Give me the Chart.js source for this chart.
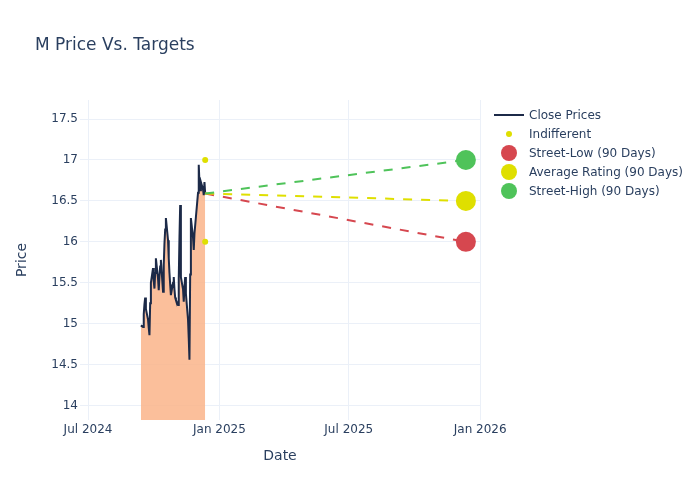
<!DOCTYPE html>
<html>
<head>
<meta charset="utf-8">
<script src="https://cdn.jsdelivr.net/npm/chart.js@4.4.1/dist/chart.umd.min.js"></script>
<style>
  html, body { margin: 0; padding: 0; background: #ffffff; }
  #wrap { position: relative; width: 700px; height: 500px; font-family: "DejaVu Sans", sans-serif; color: #2a3f5f; }
  #chart { position: absolute; left: 0; top: 0; }
  #title { position: absolute; left: 35px; top: 33px; font-size: 17px; line-height: 22px; white-space: nowrap; }
  .lg { position: absolute; left: 529px; font-size: 12px; line-height: 16px; white-space: nowrap; }
  .mk { position: absolute; }
</style>
</head>
<body>
<div id="wrap">
  <canvas id="chart" width="700" height="500"></canvas>
  <div id="title">M Price Vs. Targets</div>
  <div id="legend"></div>
</div>
<script>
// ---- data ----
const priceDates = [
  '2024-09-13','2024-09-16','2024-09-17','2024-09-18','2024-09-19','2024-09-20',
  '2024-09-23','2024-09-24','2024-09-25','2024-09-26','2024-09-27','2024-09-30',
  '2024-10-01','2024-10-02','2024-10-03','2024-10-04','2024-10-07','2024-10-08',
  '2024-10-09','2024-10-10','2024-10-11','2024-10-14','2024-10-15','2024-10-16',
  '2024-10-17','2024-10-18','2024-10-21','2024-10-22','2024-10-23','2024-10-24',
  '2024-10-25','2024-10-28','2024-10-29','2024-10-30','2024-10-31','2024-11-01',
  '2024-11-04','2024-11-05','2024-11-06','2024-11-07','2024-11-08','2024-11-11',
  '2024-11-12','2024-11-13','2024-11-14','2024-11-15','2024-11-18','2024-11-19',
  '2024-11-20','2024-11-21','2024-11-22','2024-11-25','2024-11-26','2024-11-27',
  '2024-11-29','2024-12-02','2024-12-03','2024-12-04','2024-12-05','2024-12-06',
  '2024-12-09','2024-12-10','2024-12-11','2024-12-12'
];
const closePrices = [
  14.98, 14.96, 15.12, 15.24, 15.32, 15.18,
  15.05, 14.95, 14.86, 15.25, 15.50, 15.68,
  15.52, 15.43, 15.62, 15.80, 15.55, 15.41,
  15.58, 15.70, 15.78, 15.39, 15.72, 15.98,
  16.15, 16.29, 16.02, 15.80, 15.62, 15.48,
  15.35, 15.50, 15.57, 15.42, 15.32, 15.29,
  15.23, 15.55, 16.05, 16.45, 15.57, 15.42,
  15.27, 15.45, 15.57, 15.37, 15.05, 14.82,
  14.56, 15.60, 16.29, 16.05, 15.90, 16.10,
  16.30, 16.60, 16.94, 16.72, 16.63, 16.73,
  16.64, 16.57, 16.73, 16.59
];
const indifferentDates = ['2024-12-12', '2024-12-12'];
const indifferentValues = [17, 16];
const targetStartDate = '2024-12-12';
const targetEndDate = '2025-12-12';
const targetNames = ['Street-Low (90 Days)', 'Average Rating (90 Days)', 'Street-High (90 Days)'];
const targetValues = [16, 16.5, 17];
const targetColors = ['#d6474f', '#dfdf00', '#4fc35a'];
const xTickDates = ['2024-07-01', '2025-01-01', '2025-07-01', '2026-01-01'];
const xTickLabels = ['Jul 2024', 'Jan 2025', 'Jul 2025', 'Jan 2026'];
const yTickValues = [14, 14.5, 15, 15.5, 16, 16.5, 17, 17.5];
const yTickLabels = ['14', '14.5', '15', '15.5', '16', '16.5', '17', '17.5'];

// ---- helpers ----
const t = d => Date.parse(d);
const TEXT = '#2a3f5f';
const GRID = '#ebf0f8';
const FONT = '"DejaVu Sans", sans-serif';
const lastClose = closePrices[closePrices.length - 1];

const datasets = [];
datasets.push({
  label: 'Close Prices',
  data: priceDates.map((d, i) => ({ x: t(d), y: closePrices[i] })),
  showLine: true,
  borderColor: '#1c2a48',
  borderWidth: 2,
  pointRadius: 0,
  fill: 'start',
  backgroundColor: 'rgba(250, 180, 138, 0.85)',
  tension: 0,
  order: 5
});
datasets.push({
  label: 'Indifferent',
  data: indifferentDates.map((d, i) => ({ x: t(d), y: indifferentValues[i] })),
  showLine: false,
  pointRadius: 3,
  pointBackgroundColor: '#dfdf00',
  pointBorderWidth: 0,
  order: 4
});
targetNames.forEach((name, k) => {
  datasets.push({
    label: name,
    data: [{ x: t(targetStartDate), y: lastClose }, { x: t(targetEndDate), y: targetValues[k] }],
    showLine: true,
    borderColor: targetColors[k],
    borderWidth: 2,
    borderDash: [9, 9],
    pointRadius: ctx => ctx.dataIndex === 1 ? 10 : 0,
    pointBackgroundColor: targetColors[k],
    pointBorderWidth: 0,
    fill: false,
    order: 3 - k
  });
});

const xMin = Date.UTC(2024, 5, 19, 18);
const xMax = Date.UTC(2025, 11, 31, 18);

new Chart(document.getElementById('chart'), {
  type: 'scatter',
  data: { datasets },
  options: {
    responsive: false,
    animation: false,
    devicePixelRatio: 1,
    layout: { padding: { left: 0, top: 100, right: 220, bottom: 0 } },
    plugins: { legend: { display: false }, title: { display: false }, tooltip: { enabled: false } },
    scales: {
      x: {
        type: 'linear',
        min: xMin,
        max: xMax,
        afterBuildTicks: s => { s.ticks = xTickDates.map(d => ({ value: t(d) })); },
        afterFit: s => { s.height = 80; },
        ticks: {
          autoSkip: false, maxRotation: 0, padding: 3,
          color: TEXT, font: { family: FONT, size: 12 },
          callback: v => { const i = xTickDates.findIndex(d => t(d) === v); return i >= 0 ? xTickLabels[i] : ''; }
        },
        grid: { color: GRID, lineWidth: 1, drawTicks: false },
        border: { display: false },
        title: { display: true, text: 'Date', color: TEXT, font: { family: FONT, size: 14 }, padding: { top: 0, bottom: 35 } }
      },
      y: {
        type: 'linear',
        min: 13.825,
        max: 17.732,
        afterBuildTicks: s => { s.ticks = yTickValues.map(v => ({ value: v })); },
        afterFit: s => { s.width = 80; },
        ticks: {
          padding: 2, color: TEXT, font: { family: FONT, size: 12 },
          callback: v => { const i = yTickValues.indexOf(v); return i >= 0 ? yTickLabels[i] : ''; }
        },
        grid: { color: GRID, lineWidth: 1, drawTicks: false },
        border: { display: false },
        title: { display: true, text: 'Price', color: TEXT, font: { family: FONT, size: 14 }, padding: { top: 14, bottom: 0 } }
      }
    }
  }
});

// ---- HTML legend ----
const legendItems = [
  { name: 'Close Prices', kind: 'line', color: '#1c2a48', cy: 114.5 },
  { name: 'Indifferent', kind: 'dot', color: '#dfdf00', r: 3, cy: 133.5 },
  { name: targetNames[0], kind: 'dot', color: targetColors[0], r: 8, cy: 152.5 },
  { name: targetNames[1], kind: 'dot', color: targetColors[1], r: 8, cy: 171.5 },
  { name: targetNames[2], kind: 'dot', color: targetColors[2], r: 8, cy: 190.5 }
];
const lg = document.getElementById('legend');
legendItems.forEach(it => {
  const m = document.createElement('div');
  m.className = 'mk';
  if (it.kind === 'line') {
    m.style.left = '494px'; m.style.top = (it.cy - 1) + 'px';
    m.style.width = '30px'; m.style.height = '2px'; m.style.background = it.color;
  } else {
    m.style.left = (509 - it.r) + 'px'; m.style.top = (it.cy - it.r) + 'px';
    m.style.width = (2 * it.r) + 'px'; m.style.height = (2 * it.r) + 'px';
    m.style.borderRadius = '50%'; m.style.background = it.color;
  }
  lg.appendChild(m);
  const tx = document.createElement('div');
  tx.className = 'lg';
  tx.style.top = (it.cy - 8) + 'px';
  tx.textContent = it.name;
  lg.appendChild(tx);
});
</script>
</body>
</html>
